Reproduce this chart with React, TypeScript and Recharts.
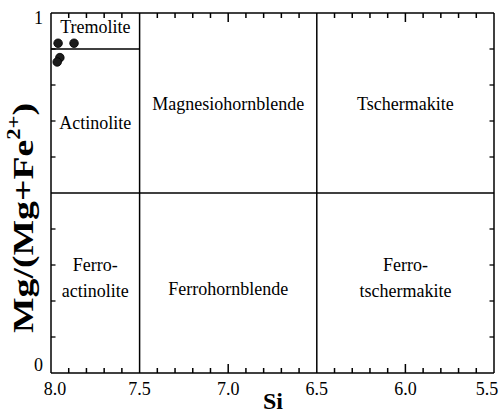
import React from 'react';
import { ScatterChart, Scatter, XAxis, YAxis, ReferenceLine } from 'recharts';

const W = 501;
const H = 410;
const FONT = '"Liberation Serif", "Times New Roman", serif';

// sample points
const siValues = [7.96, 7.87, 7.95, 7.965];
const mgValues = [0.916, 0.916, 0.876, 0.864];

// axis ticks
const xTicks = [8.0, 7.5, 7.0, 6.5, 6.0, 5.5];
const yTicks = [0, 1];
const xMinorTicks = [7.9, 7.8, 7.7, 7.6, 7.4, 7.3, 7.2, 7.1, 7.0, 6.9, 6.8, 6.7, 6.6, 6.4, 6.3, 6.2, 6.1, 6.0, 5.9, 5.8, 5.7, 5.6];
const xMajorTicks = [7.0, 6.0];
const yMinorTicks = [0.1, 0.2, 0.3, 0.4, 0.6, 0.7, 0.8, 0.9];

// field boundaries
const siBoundaries = [7.5, 6.5];
const mgBoundary = 0.5;
const tremoliteBoundary = { mg: 0.9, siFrom: 8.0, siTo: 7.5 };

// field names
const fieldNames = [
  ['Tremolite'],
  ['Actinolite'],
  ['Magnesiohornblende'],
  ['Tschermakite'],
  ['Ferro-', 'actinolite'],
  ['Ferrohornblende'],
  ['Ferro-', 'tschermakite'],
];
const fieldSi = [7.75, 7.75, 7.0, 6.0, 7.75, 7.0, 6.0];
const fieldMg = [0.9625, 0.694, 0.746, 0.746, 0.264, 0.234, 0.264];

const points = siValues.map((si, i) => ({ si, mg: mgValues[i] }));
const fields = fieldNames.map((lines, i) => ({ si: fieldSi[i], mg: fieldMg[i], lines }));

const isIn = (v: number, arr: number[]) => arr.some((m) => Math.abs(m - v) < 1e-6);

// x tick marks on bottom (mg = 0) and top (mg = 1) frame edges
const xTickMarks = xMinorTicks.flatMap((v) => [
  { si: v, mg: 0, dir: -1, mark: isIn(v, xMajorTicks) ? 9 : 5 },
  { si: v, mg: 1, dir: 1, mark: isIn(v, xMajorTicks) ? 9 : 5 },
]);

const XTickMark = (props: any) => {
  const { cx, cy, payload } = props;
  const len = Number(payload && payload.mark) || 5;
  const down = payload && payload.dir > 0;
  const top = down ? Number(cy) : Number(cy) - len;
  return <rect x={Number(cx) - 0.75} y={top} width={1.5} height={len} fill="#000" />;
};

// Short inward tick marks at both ends of a horizontal reference line
const EdgeTicks = (props: any) => {
  const { x1, y1, x2, len } = props;
  const left = Math.min(x1, x2);
  const right = Math.max(x1, x2);
  return (
    <g>
      <line x1={left} y1={y1} x2={left + len} y2={y1} stroke="#000" strokeWidth={1.3} />
      <line x1={right} y1={y1} x2={right - len} y2={y1} stroke="#000" strokeWidth={1.3} />
    </g>
  );
};

const XTickLabel = (props: any) => {
  const { x, y, payload, index } = props;
  let dx = 0;
  if (index === 0) dx = 4;
  if (index === xTicks.length - 1) dx = -7;
  return (
    <text x={x + dx} y={y + 16} textAnchor="middle" fontFamily={FONT} fontSize={18} fill="#000">
      {payload.value.toFixed(1)}
    </text>
  );
};

const YTickLabel = (props: any) => {
  const { x, y, payload } = props;
  const dy = payload.value === 1 ? 11 : -2;
  return (
    <text x={x} y={y + dy} textAnchor="end" fontFamily={FONT} fontSize={18} fill="#000">
      {String(payload.value)}
    </text>
  );
};

const FieldLabel = (props: any) => {
  const { cx, cy, payload } = props;
  const lines: string[] = payload.lines;
  const n = lines.length;
  return (
    <g>
      {lines.map((t, i) => (
        <text
          key={i}
          x={cx}
          y={cy + 6 + (i - (n - 1) / 2) * 26}
          textAnchor="middle"
          fontFamily={FONT}
          fontSize={18}
          fill="#000"
        >
          {t}
        </text>
      ))}
    </g>
  );
};

const Dot = (props: any) => {
  const { cx, cy } = props;
  return <circle cx={cx} cy={cy} r={4.3} fill="#1c1c1c" stroke="#000" strokeWidth={0.8} />;
};

const YLabel = () => (
  <text
    x={33}
    y={218}
    transform="rotate(-90, 33, 218)"
    textAnchor="middle"
    fontFamily={FONT}
    fontWeight="bold"
    fontSize={30}
    fill="#000"
    textLength={230}
    lengthAdjust="spacingAndGlyphs"
  >
    Mg/(Mg+Fe
    <tspan dy={-13} fontSize={18}>2+</tspan>
    <tspan dy={13}>)</tspan>
  </text>
);

const XLabel = () => (
  <text x={273} y={409} textAnchor="middle" fontFamily={FONT} fontWeight="bold" fontSize={24} fill="#000">
    Si
  </text>
);

const axisStroke = { stroke: '#000', strokeWidth: 1.5 };

export default function App() {
  return (
    <div style={{ position: 'absolute', left: 0, top: 0, width: W, height: H, background: '#fff' }}>
      <ScatterChart width={W} height={H} margin={{ top: 12, right: 6, bottom: 0, left: 0 }}>
        <XAxis
          xAxisId="main"
          type="number"
          dataKey="si"
          domain={[5.5, 8]}
          reversed
          allowDataOverflow
          ticks={xTicks}
          interval={0}
          tickLine={false}
          tickSize={6}
          tickMargin={0}
          axisLine={axisStroke}
          height={37}
          tick={<XTickLabel />}
          label={<XLabel />}
        />
        <XAxis
          xAxisId="top"
          type="number"
          domain={[5.5, 8]}
          reversed
          allowDataOverflow
          orientation="top"
          height={1}
          ticks={xTicks}
          tick={false}
          tickLine={false}
          axisLine={axisStroke}
        />
        <YAxis
          yAxisId="main"
          type="number"
          dataKey="mg"
          domain={[0, 1]}
          allowDataOverflow
          ticks={yTicks}
          interval={0}
          tickLine={false}
          tickSize={6}
          tickMargin={2}
          axisLine={axisStroke}
          width={51}
          tick={<YTickLabel />}
          label={<YLabel />}
        />
        <YAxis
          yAxisId="right"
          type="number"
          domain={[0, 1]}
          allowDataOverflow
          orientation="right"
          width={1}
          ticks={yTicks}
          tick={false}
          tickLine={false}
          axisLine={axisStroke}
        />
        {yMinorTicks.map((v) => (
          <ReferenceLine
            key={`yt${v}`}
            xAxisId="main"
            yAxisId="main"
            y={v}
            stroke="#000"
            shape={<EdgeTicks len={4.5} />}
          />
        ))}
        {siBoundaries.map((si) => (
          <ReferenceLine key={si} xAxisId="main" yAxisId="main" x={si} stroke="#000" strokeWidth={1.5} />
        ))}
        <ReferenceLine xAxisId="main" yAxisId="main" y={mgBoundary} stroke="#000" strokeWidth={1.5} />
        <ReferenceLine
          xAxisId="main"
          yAxisId="main"
          segment={[
            { x: tremoliteBoundary.siFrom, y: tremoliteBoundary.mg },
            { x: tremoliteBoundary.siTo, y: tremoliteBoundary.mg },
          ]}
          stroke="#000"
          strokeWidth={1.5}
        />
        <Scatter
          xAxisId="main"
          yAxisId="main"
          data={xTickMarks}
          shape={<XTickMark />}
          isAnimationActive={false}
        />
        <Scatter
          xAxisId="main"
          yAxisId="main"
          data={fields}
          shape={<FieldLabel />}
          isAnimationActive={false}
        />
        <Scatter
          xAxisId="main"
          yAxisId="main"
          data={points}
          shape={<Dot />}
          isAnimationActive={false}
        />
      </ScatterChart>
    </div>
  );
}
